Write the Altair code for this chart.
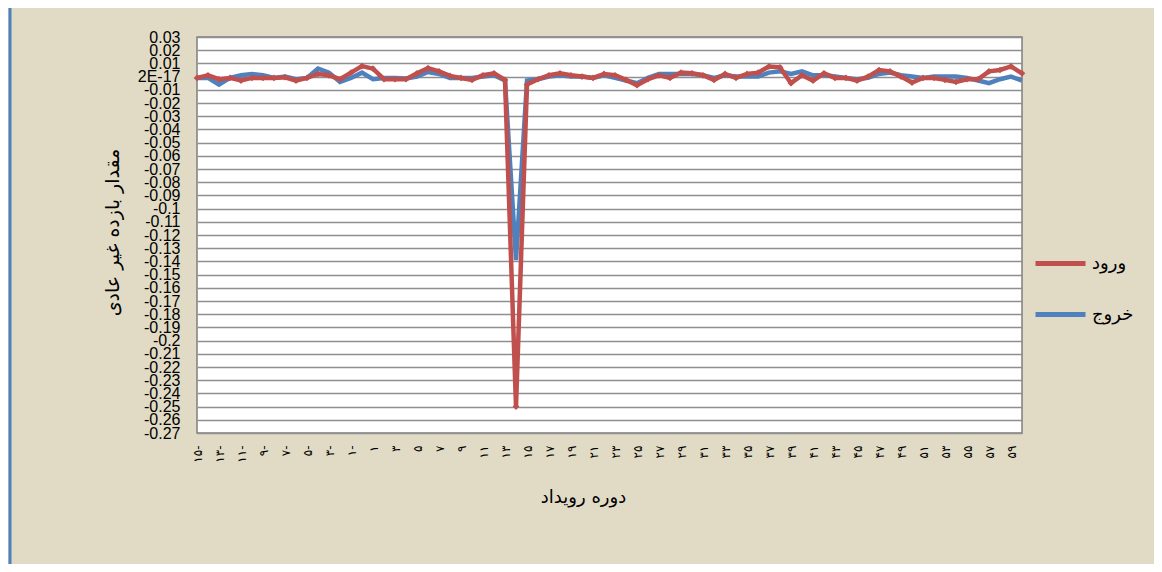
import altair as alt
import pandas as pd

# ---------------- data ----------------
days = list(range(-15, 61))

entry = [  # ورود (red)
    -0.001, 0.001, -0.002, -0.001, -0.003, -0.001, -0.001, -0.001, -0.0005, -0.003,
    -0.001, 0.002, 0.001, -0.002, 0.003, 0.008, 0.006, -0.002, -0.002, -0.002,
    0.0025, 0.0064, 0.004, 0.0005, -0.001, -0.0025, 0.001, 0.0025, -0.0025, -0.25,
    -0.006, -0.002, 0.001, 0.0025, 0.001, 0.0, -0.001, 0.002, 0.001, -0.0025,
    -0.0065, -0.002, 0.001, -0.001, 0.003, 0.0025, 0.001, -0.0025, 0.002, -0.001,
    0.002, 0.003, 0.0077, 0.007, -0.005, 0.001, -0.003, 0.0025, -0.001, -0.001,
    -0.003, 0.0, 0.005, 0.004, 0.0, -0.0045, -0.001, -0.001, -0.0025, -0.004,
    -0.002, -0.002, 0.004, 0.005, 0.0077, 0.0025,
]

exit_ = [  # خروج (blue)
    -0.001, -0.001, -0.006, -0.001, 0.001, 0.002, 0.001, -0.001, 0.0, -0.002,
    -0.001, 0.006, 0.003, -0.004, -0.001, 0.003, -0.002, -0.001, -0.001, -0.0015,
    0.0, 0.0035, 0.002, -0.001, -0.001, -0.001, 0.0, 0.001, -0.003, -0.139,
    -0.003, -0.002, 0.0, 0.001, 0.0, 0.0, -0.001, 0.001, -0.001, -0.003,
    -0.005, -0.001, 0.002, 0.002, 0.002, 0.002, 0.001, -0.001, 0.001, 0.0,
    0.0, 0.0, 0.003, 0.004, 0.002, 0.004, 0.001, 0.001, 0.0, -0.001,
    -0.002, -0.001, 0.002, 0.003, 0.001, 0.0, -0.001, 0.0, 0.0, 0.0,
    -0.001, -0.003, -0.005, -0.002, 0.0, -0.003,
]

series_names = ["ورود", "خروج"]
series_colors = ["#C0504D", "#4F81BD"]

x_tick_labels = [
    "۱۵-", "۱۳-", "۱۱-", "۹-", "۷-", "۵-", "۳-", "۱-",
    "۱", "۳", "۵", "۷", "۹", "۱۱", "۱۳", "۱۵", "۱۷", "۱۹", "۲۱", "۲۳",
    "۲۵", "۲۷", "۲۹", "۳۱", "۳۳", "۳۵", "۳۷", "۳۹", "۴۱", "۴۳",
    "۴۵", "۴۷", "۴۹", "۵۱", "۵۳", "۵۵", "۵۷", "۵۹",
]

y_ticks = [0.03, 0.02, 0.01, 0.0, -0.01, -0.02, -0.03, -0.04, -0.05, -0.06,
           -0.07, -0.08, -0.09, -0.1, -0.11, -0.12, -0.13, -0.14, -0.15, -0.16,
           -0.17, -0.18, -0.19, -0.2, -0.21, -0.22, -0.23, -0.24, -0.25, -0.26, -0.27]
y_tick_labels = ["0.03", "0.02", "0.01", "2E-17", "-0.01", "-0.02", "-0.03", "-0.04",
                 "-0.05", "-0.06", "-0.07", "-0.08", "-0.09", "-0.1", "-0.11", "-0.12",
                 "-0.13", "-0.14", "-0.15", "-0.16", "-0.17", "-0.18", "-0.19", "-0.2",
                 "-0.21", "-0.22", "-0.23", "-0.24", "-0.25", "-0.26", "-0.27"]

df = pd.DataFrame({
    "day": days * 2,
    "value": entry + exit_,
    "series": [series_names[0]] * len(days) + [series_names[1]] * len(days),
})

# ---------------- encodings ----------------
x_label_arr = "[" + ",".join("'%s'" % s for s in x_tick_labels) + "]"
y_label_arr = "[" + ",".join("'%s'" % s for s in y_tick_labels) + "]"

x_enc = alt.X(
    "day:O",
    scale=alt.Scale(padding=0),
    title="دوره رویداد",
    axis=alt.Axis(
        labelExpr=f"(datum.value + 15) % 2 == 0 ? {x_label_arr}[(datum.value + 15) / 2] : ''",
        labelAngle=270,
        labelFont="DejaVu Sans",
        labelFontSize=12,
        labelColor="black",
        labelPadding=12,
        labelOverlap=False,
        ticks=False,
        domain=False,
        grid=False,
        titleFont="DejaVu Sans",
        titleFontSize=18,
        titleFontWeight="normal",
        titleColor="black",
        titleX=386,
        titleY=64,
        titleBaseline="middle",
    ),
)

y_enc = alt.Y(
    "value:Q",
    scale=alt.Scale(domain=[-0.27, 0.03], nice=False, zero=False),
    title="مقدار بازده غیر عادی",
    axis=alt.Axis(
        values=y_ticks,
        labelExpr=f"{y_label_arr}[round((0.03 - datum.value) * 100)]",
        labelFont="Liberation Sans",
        labelFontSize=16,
        labelColor="black",
        labelPadding=17,
        labelOverlap=False,
        labelBound=False,
        labelFlush=False,
        ticks=False,
        domain=False,
        grid=True,
        gridColor="#8F8F8F",
        gridWidth=1.6,
        titleFont="DejaVu Sans",
        titleFontSize=19,
        titleFontWeight="normal",
        titleColor="black",
        titleAngle=270,
        titleX=-85,
        titleY=195,
        titleAlign="center",
        titleBaseline="middle",
    ),
)

color_enc = alt.Color(
    "series:N",
    scale=alt.Scale(domain=series_names, range=series_colors),
    legend=alt.Legend(
        title=None,
        orient="none",
        legendX=836,
        legendY=199,
        symbolType="stroke",
        symbolSize=2500,
        symbolStrokeWidth=5,
        labelFont="DejaVu Sans",
        labelFontSize=18,
        labelColor="black",
        rowPadding=13,
        labelOffset=4,
    ),
)

base = alt.Chart(df)

blue = base.transform_filter(alt.datum.series == series_names[1]).mark_line(
    strokeWidth=4.5
).encode(x=x_enc, y=y_enc, color=color_enc)

red = base.transform_filter(alt.datum.series == series_names[0]).mark_line(
    strokeWidth=4.5,
    point=alt.OverlayMarkDef(filled=True, size=45, shape="diamond"),
).encode(x=x_enc, y=y_enc, color=color_enc)

frame = alt.Chart(pd.DataFrame({"k": [0]})).mark_rule(
    color="#4F81BD", strokeWidth=3, clip=False
).encode(x=alt.value(-187), y=alt.value(-29), y2=alt.value(527))

chart = alt.layer(frame, blue, red).properties(
    width=825,
    height=396,
    autosize=alt.AutoSizeParams(type="none"),
    padding={"left": 189, "top": 29, "right": 132, "bottom": 131},
    background="#E1DBC6",
).configure_view(
    fill="white",
    stroke="#7F7F7F",
    strokeWidth=1.5,
)

chart.save("out.html", embed_options={"renderer": "svg", "actions": False})
